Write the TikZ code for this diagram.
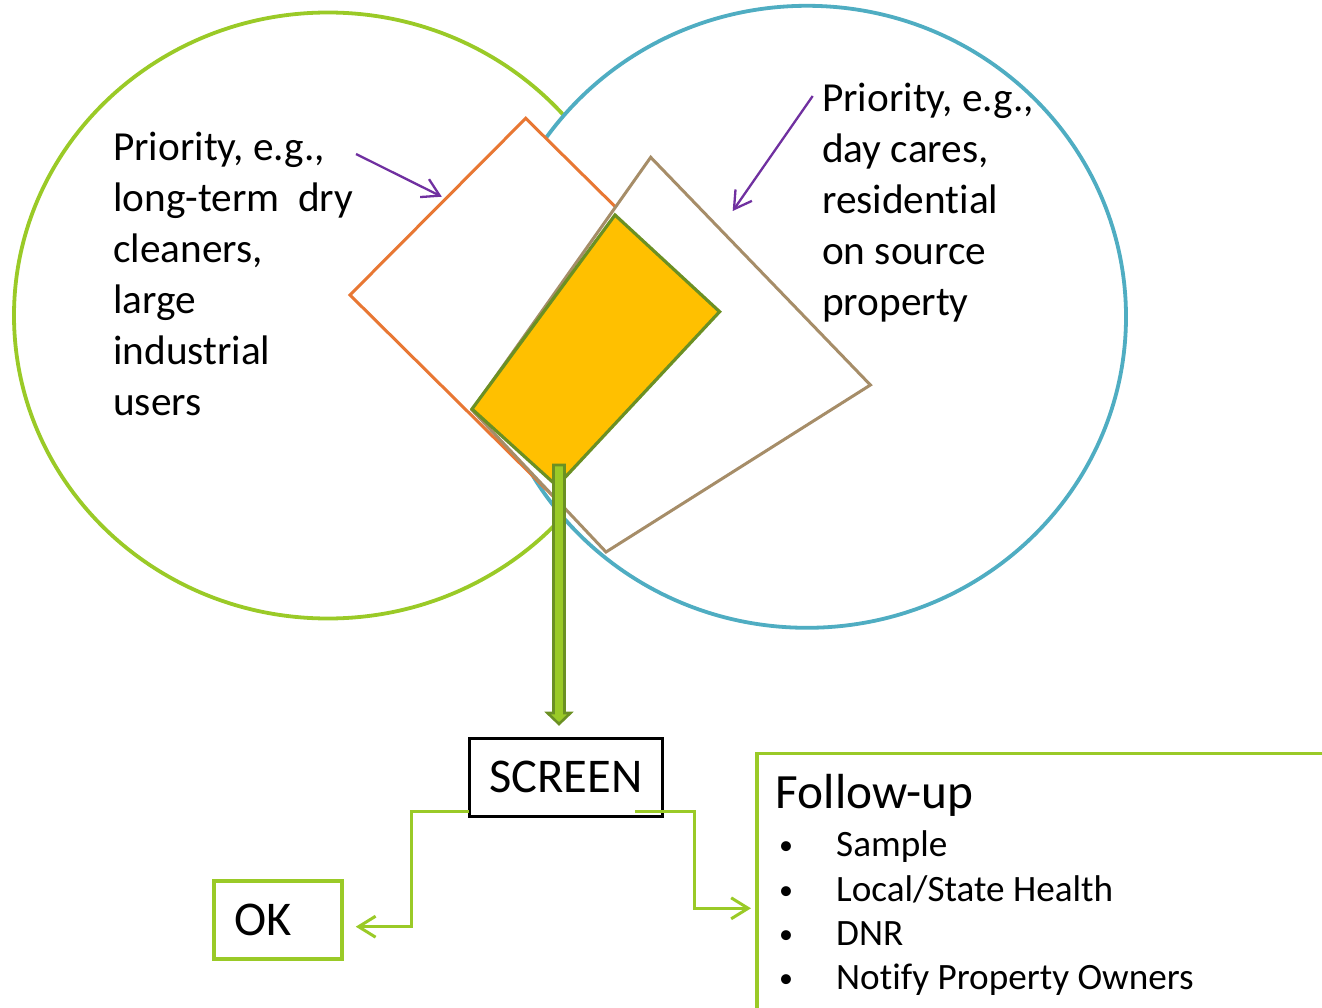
\documentclass[tikz,border=0pt]{standalone}
\usepackage{fontspec}
\setmainfont[Ligatures=NoCommon]{Carlito}
\usetikzlibrary{arrows.meta,calc}
\definecolor{lgreen}{HTML}{9ACA27}
\definecolor{aqua}{HTML}{4FADC2}
\definecolor{orng}{HTML}{E87733}
\definecolor{tan}{HTML}{A68D68}
\definecolor{olive}{HTML}{6B9023}
\definecolor{gold}{HTML}{FFC000}
\definecolor{purp}{HTML}{7030A0}
\newcommand\myfs[2]{\fontsize{#1}{#2}\selectfont}
\newcommand\mybul{\makebox[58.5pt][l]{\hspace{1.5pt}\raisebox{2pt}{\myfs{28pt}{28pt}•}}}
\begin{document}
\begin{tikzpicture}[x=1pt,y=-1pt,
  ring/.style={line width=3.8pt, fill=white},
  quad/.style={line width=3pt, fill=white, line join=miter},
  txt/.style={inner sep=0pt, anchor=base west},
  pointer/.style={draw=purp, line width=2.3pt, -{Straight Barb[length=17pt,width=20pt,line width=2.3pt]}},
  conn/.style={draw=lgreen, line width=3pt, -{Straight Barb[length=17pt,width=21pt,line width=3pt]}},
  boxed/.style={draw, rectangle, inner xsep=20pt, inner ysep=0pt, align=left}
]
\useasboundingbox (0,0) rectangle (1322,1008);
\clip (0,0) rectangle (1322,1008);
% circles
\draw[ring, draw=lgreen] (328,315.5) ellipse [x radius=314pt, y radius=303pt];
\draw[ring, draw=aqua] (807,316.8) ellipse [x radius=319pt, y radius=311pt];
% squares
\draw[quad, draw=orng] (525.7,118.3) -- (736,326) -- (560,503) -- (350,295) -- cycle;
\draw[quad, draw=tan] (650.7,157.3) -- (870.4,385) -- (606,552) -- (472,410) -- cycle;
\draw[line width=3.2pt, draw=olive, fill=gold, line join=miter] (615,215) -- (719.6,311.7) -- (557,486) -- (472,409) -- cycle;
% texts
\node[txt] (lefttext) at (113,161) {\parbox[t]{320pt}{\raggedright\myfs{41.3pt}{51pt}Priority, e.g.,\\long-term\hspace{0.45em}dry\\cleaners,\\large\\industrial\\users}};
\node[txt] (righttext) at (822,112) {\parbox[t]{320pt}{\raggedright\myfs{41.3pt}{51pt}Priority, e.g.,\\day cares,\\residential\\on source\\property}};
% purple pointers
\coordinate (pl1) at (356,154);
\coordinate (pl2) at (441.8,196.7);
\coordinate (pr1) at (812.7,96);
\coordinate (pr2) at (732.7,211);
\draw[pointer] (pl1) -- (pl2);
\draw[pointer] (pr1) -- (pr2);
% boxes
\node[boxed, line width=3.5pt, draw=black, minimum width=191pt, minimum height=78.4pt, text height=30.5pt, text depth=0pt, font=\myfs{48.5pt}{58pt}] (screen) at (565.9,777.5) {SCREEN};
\node[boxed, line width=4pt, draw=lgreen, text width=87.5pt, minimum height=78.6pt, text height=30.5pt, text depth=0pt, font=\myfs{48.5pt}{58pt}] (ok) at (278,920) {OK};
\node[draw=lgreen, line width=3.5pt, rectangle, anchor=north west, minimum width=700pt, minimum height=400pt] (fu) at (755,751.5) {};
\node[txt] (futitle) at (775.6,808.3) {\myfs{49.3pt}{58pt}Follow-up};
\node[txt] (fulist) at (777.5,856.7) {\parbox[t]{520pt}{\raggedright\myfs{37.2pt}{44.4pt}%
\mybul Sample\\
\mybul Local/State Health\\
\mybul DNR\\
\mybul Notify Property Owners}};
% green double arrow
\coordinate (dtop) at (559,465);
\draw[draw=olive, fill=lgreen, line width=2.6pt, line join=miter]
  ($(dtop)+(-5.5,0)$) -- ($(dtop)+(-5.5,248)$) -- ($(dtop)+(-11.5,248)$) -- ($(dtop)+(0,259)$)
  -- ($(dtop)+(11.5,248)$) -- ($(dtop)+(5.5,248)$) -- ($(dtop)+(5.5,0)$) -- cycle;
% connectors
\draw[conn] ($(screen.south west)+(1.75,-6.8)$) -- ++(-58,0) |- ($(ok.east)+(12,6.7)$);
\draw[conn] ($(screen.south east)+(-29,-6.8)$) -- ++(59,0) |- ($(fu.north west)+(-4,156.8)$);
\end{tikzpicture}
\end{document}
